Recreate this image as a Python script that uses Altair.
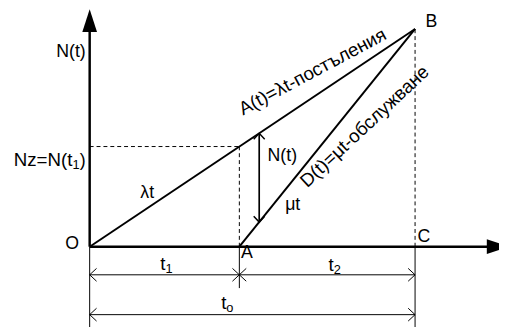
import altair as alt
import pandas as pd

# ---- key values of the queue diagram (time units / number of requests) ----
T1 = 4.6            # t1 : end of the waiting phase (point A)
T0 = 10.0           # t0 = t1 + t2 (point C)
NB = 10.0           # N at point B
LAM = NB / T0       # arrival rate  (A(t) = λt)
MU = NB / (T0 - T1) # service rate  (D(t) = μ(t - t1))
NZ = LAM * T1       # Nz = N(t1)
T_SHOW = 5.21       # moment where N(t) is marked
DIM_Y1 = -1.29      # level of the t1 / t2 dimension line
DIM_Y0 = -3.12      # level of the t0 dimension line
EXT_A = -1.9        # end of extension line under A
EXT_BOTTOM = -3.8   # end of extension lines under O and C
X_TIP = 12.9        # tip of the time axis arrow
Y_TIP = 10.9        # tip of the N(t) axis arrow

# plain labels (centred) and their positions (data units)
c_labels = ["O", "λt", "A", "C", "B", "N(t)", "μt"]
c_x = [-0.54, 1.77, 4.83, 10.27, 10.5, 5.92, 6.24]
c_y = [0.14, 2.44, -0.27, 0.42, 10.32, 4.17, 1.9]

# right-aligned labels at the N(t) axis
r_labels = ["N(t)", ")"]
r_x = [-0.12, -0.12]
r_y = [8.95, 3.7]

# labels with a subscript: main part ends where the subscript starts
s_main = ["t", "t", "t", "Nz=N(t"]
s_sub = ["1", "2", "o", "1"]
s_x = [2.33, 7.5, 4.2, -0.53]
s_y = [-1.09, -1.13, -2.86, 3.7]

rot_labels = ["A(t)=λt-постъления", "D(t)=μt-обслужване"]
rot_x = [6.85, 8.45]
rot_y = [8.03, 5.52]
rot_angle = [332, 317]

W, H = 499, 319
xs = alt.Scale(domain=[0, T0], range=[83, 413.7], nice=False, zero=False)
ys = alt.Scale(domain=[0, NB], range=[240, 18.7], nice=False, zero=False)


def X(f):
    return alt.X(f, type="quantitative", scale=xs, axis=None)


def Y(f):
    return alt.Y(f, type="quantitative", scale=ys, axis=None)


def segs(rows, width, dash=None):
    df = pd.DataFrame(rows, columns=["x", "y", "x2", "y2"])
    kw = dict(color="black", strokeWidth=width)
    if dash:
        kw["strokeDash"] = dash
    return alt.Chart(df).mark_rule(**kw).encode(
        x=X("x"), y=Y("y"), x2="x2:Q", y2="y2:Q"
    )


axes = segs([(0, 0, X_TIP - 0.4, 0), (0, 0, 0, Y_TIP - 0.4)], 2.5)
main = segs([(0, 0, T0, NB), (T1, 0, T0, NB)], 2)
dashed = segs([(0, NZ, T1, NZ), (T1, 0, T1, NZ), (T0, 0, T0, NB)], 1, [4, 3])
thin = segs([
    (0, 0, 0, EXT_BOTTOM), (T1, 0, T1, EXT_A), (T0, 0, T0, EXT_BOTTOM),
    (0, DIM_Y1, T0, DIM_Y1), (0, DIM_Y0, T0, DIM_Y0),
], 1)
narrow = segs([(T_SHOW, MU * (T_SHOW - T1), T_SHOW, LAM * T_SHOW)], 1.7)

V_PATH = "M -1 -0.93 L 0 0 L -1 0.93"
FILL_PATH = "M 0 0 L -2 -0.65 L -2 0.65 Z"

heads_fill = alt.Chart(pd.DataFrame({
    "x": [X_TIP, 0], "y": [0, Y_TIP], "a": [0, 270]
})).mark_point(shape=FILL_PATH, filled=True, color="black", opacity=1, size=529).encode(
    x=X("x"), y=Y("y"), angle=alt.Angle("a:Q", scale=None)
)

heads_dim = alt.Chart(pd.DataFrame({
    "x": [0, T1, T1, T0, 0, T0],
    "y": [DIM_Y1, DIM_Y1, DIM_Y1, DIM_Y1, DIM_Y0, DIM_Y0],
    "a": [180, 0, 180, 0, 180, 0],
})).mark_point(shape=V_PATH, filled=False, color="black", opacity=1,
               strokeWidth=1, size=196).encode(
    x=X("x"), y=Y("y"), angle=alt.Angle("a:Q", scale=None)
)

heads_n = alt.Chart(pd.DataFrame({
    "x": [T_SHOW, T_SHOW],
    "y": [LAM * T_SHOW, MU * (T_SHOW - T1)],
    "a": [270, 90],
})).mark_point(shape=V_PATH, filled=False, color="black", opacity=1,
               strokeWidth=1.5, size=144).encode(
    x=X("x"), y=Y("y"), angle=alt.Angle("a:Q", scale=None)
)

FONT = "Liberation Sans"
txt_c = alt.Chart(pd.DataFrame({"t": c_labels, "x": c_x, "y": c_y})).mark_text(
    font=FONT, fontSize=18, color="black", align="center", baseline="middle"
).encode(x=X("x"), y=Y("y"), text="t:N")

txt_r = alt.Chart(pd.DataFrame({"t": r_labels[:1], "x": r_x[:1], "y": r_y[:1]})).mark_text(
    font=FONT, fontSize=18, color="black", align="right", baseline="middle"
).encode(x=X("x"), y=Y("y"), text="t:N")

txt_paren = alt.Chart(pd.DataFrame({"t": r_labels[1:], "x": r_x[1:], "y": r_y[1:]})).mark_text(
    font=FONT, fontSize=18, color="black", align="right", baseline="alphabetic"
).encode(x=X("x"), y=Y("y"), text="t:N")

sub_df = pd.DataFrame({"m": s_main, "s": s_sub, "x": s_x, "y": s_y})
txt_main = alt.Chart(sub_df).mark_text(
    font=FONT, fontSize=19, color="black", align="right", baseline="alphabetic"
).encode(x=X("x"), y=Y("y"), text="m:N")
txt_sub = alt.Chart(sub_df).mark_text(
    font=FONT, fontSize=13, color="black", align="left", baseline="alphabetic", dy=3
).encode(x=X("x"), y=Y("y"), text="s:N")

txt_rot = alt.Chart(pd.DataFrame({
    "t": rot_labels, "x": rot_x, "y": rot_y, "a": rot_angle
})).mark_text(
    font=FONT, fontSize=19, color="black", align="center", baseline="middle"
).encode(x=X("x"), y=Y("y"), text="t:N", angle=alt.Angle("a:Q", scale=None))

chart = alt.layer(
    dashed, thin, main, axes, narrow, heads_fill, heads_dim, heads_n,
    txt_c, txt_r, txt_paren, txt_main, txt_sub, txt_rot
).properties(
    width=W, height=H, padding=0, autosize=alt.AutoSizeParams(type="none"),
    background="white"
).configure_view(stroke=None)

chart.save("out.html", embed_options={"renderer": "svg", "actions": False})
